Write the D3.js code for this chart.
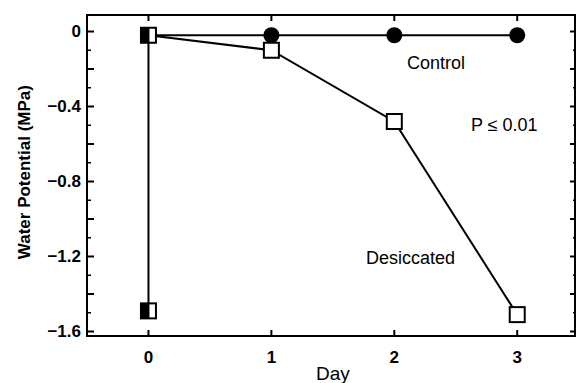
<!DOCTYPE html>
<html>
<head>
<meta charset="utf-8">
<script src="https://cdn.jsdelivr.net/npm/d3@7"></script>
<style>
  body { margin: 0; background: #fff; }
  text { font-family: "Liberation Sans", Arial, Helvetica, sans-serif; fill: #000; }
</style>
</head>
<body>
<div id="chart"></div>
<script>
// data
var days = [0, 1, 2, 3];
var control = [-0.02, -0.02, -0.02, -0.02];
var desiccated = [-0.02, -0.10, -0.48, -1.51];
var day0Values = [-0.02, -1.49];   // both treatments overlap at day 0
var yTickLabels = [0, -0.4, -0.8, -1.2, -1.6];

var width = 576,
    height = 383;

var x = d3.scaleLinear().domain([-0.5, 3.47]).range([87, 575]);
var y = d3.scaleLinear().domain([-1.624, 0.088]).range([336, 15]);

var svg = d3.select("#chart").append("svg")
  .attr("width", width)
  .attr("height", height);

// frame
svg.append("rect")
  .attr("x", x(-0.5)).attr("y", y(0.088))
  .attr("width", x(3.47) - x(-0.5)).attr("height", y(-1.624) - y(0.088))
  .attr("fill", "none").attr("stroke", "#000").attr("stroke-width", 2);

// y ticks (inward on both sides)
var majorY = d3.range(0, -1.61, -0.2);
var minorY = d3.range(-0.1, -1.61, -0.2);

svg.append("g").selectAll("line.maj").data(majorY).enter().append("line")
  .attr("x1", x(-0.5)).attr("x2", x(-0.5) + 7)
  .attr("y1", function(d) { return y(d); }).attr("y2", function(d) { return y(d); })
  .attr("stroke", "#000").attr("stroke-width", 2);
svg.append("g").selectAll("line.min").data(minorY).enter().append("line")
  .attr("x1", x(-0.5)).attr("x2", x(-0.5) + 4)
  .attr("y1", function(d) { return y(d); }).attr("y2", function(d) { return y(d); })
  .attr("stroke", "#000").attr("stroke-width", 1.5);
svg.append("g").selectAll("line.rmaj").data(majorY).enter().append("line")
  .attr("x1", x(3.47)).attr("x2", x(3.47) - 5)
  .attr("y1", function(d) { return y(d); }).attr("y2", function(d) { return y(d); })
  .attr("stroke", "#000").attr("stroke-width", 2);
svg.append("g").selectAll("line.rmin").data(minorY).enter().append("line")
  .attr("x1", x(3.47)).attr("x2", x(3.47) - 2)
  .attr("y1", function(d) { return y(d); }).attr("y2", function(d) { return y(d); })
  .attr("stroke", "#000").attr("stroke-width", 1.5);

svg.append("g").selectAll("text").data(yTickLabels).enter().append("text")
  .attr("x", 81).attr("y", function(d) { return y(d); })
  .attr("dy", "0.35em")
  .attr("text-anchor", "end")
  .style("font-size", "17px").style("font-weight", "bold")
  .text(function(d) { return d === 0 ? "0" : d3.format(".1f")(d); });

// x ticks (inward top and bottom)
svg.append("g").selectAll("line.b").data(days).enter().append("line")
  .attr("x1", function(d) { return x(d); }).attr("x2", function(d) { return x(d); })
  .attr("y1", y(-1.624)).attr("y2", y(-1.624) - 6)
  .attr("stroke", "#000").attr("stroke-width", 2);
svg.append("g").selectAll("line.t").data(days).enter().append("line")
  .attr("x1", function(d) { return x(d); }).attr("x2", function(d) { return x(d); })
  .attr("y1", y(0.088)).attr("y2", y(0.088) + 6)
  .attr("stroke", "#000").attr("stroke-width", 2);
svg.append("g").selectAll("text").data(days).enter().append("text")
  .attr("x", function(d) { return x(d); }).attr("y", 357)
  .attr("dy", "0.35em")
  .attr("text-anchor", "middle")
  .style("font-size", "17px").style("font-weight", "bold")
  .text(function(d) { return d; });

// axis titles
svg.append("text")
  .attr("x", x(1.5)).attr("y", 380)
  .attr("text-anchor", "middle")
  .style("font-size", "19px")
  .text("Day");
svg.append("text")
  .attr("transform", "translate(30," + y(-0.75) + ") rotate(-90)")
  .attr("text-anchor", "middle")
  .style("font-size", "17px").style("font-weight", "bold")
  .text("Water Potential (MPa)");

// lines
var line = d3.line()
  .x(function(d) { return x(d[0]); })
  .y(function(d) { return y(d[1]); });

svg.append("path")
  .datum(d3.zip(days, control))
  .attr("d", line).attr("fill", "none").attr("stroke", "#000").attr("stroke-width", 2);
svg.append("path")
  .datum(d3.zip(days, desiccated))
  .attr("d", line).attr("fill", "none").attr("stroke", "#000").attr("stroke-width", 2);
svg.append("path")
  .datum(day0Values.map(function(v) { return [0, v]; }))
  .attr("d", line).attr("fill", "none").attr("stroke", "#000").attr("stroke-width", 2);

// control circles (day 0 hidden under the square marker)
svg.append("g").selectAll("circle").data(d3.zip(days, control).slice(1)).enter().append("circle")
  .attr("cx", function(d) { return x(d[0]); })
  .attr("cy", function(d) { return y(d[1]); })
  .attr("r", 8)
  .attr("fill", "#000");

// desiccated squares
var s = 15;
svg.append("g").selectAll("rect").data(d3.zip(days, desiccated).slice(1)).enter().append("rect")
  .attr("x", function(d) { return x(d[0]) - s / 2; })
  .attr("y", function(d) { return y(d[1]) - s / 2; })
  .attr("width", s).attr("height", s)
  .attr("fill", "#fff").attr("stroke", "#000").attr("stroke-width", 2);

// day 0: overlapping filled + open squares
var d0 = svg.append("g").selectAll("g").data(day0Values).enter().append("g");
d0.append("rect")
  .attr("x", x(0) - s / 2).attr("y", function(d) { return y(d) - s / 2; })
  .attr("width", s).attr("height", s)
  .attr("fill", "#fff").attr("stroke", "#000").attr("stroke-width", 2);
d0.append("rect")
  .attr("x", x(0) - s / 2).attr("y", function(d) { return y(d) - s / 2; })
  .attr("width", s / 2 + 1).attr("height", s)
  .attr("fill", "#000");

// annotations
svg.append("text").attr("x", 407).attr("y", 63).attr("dy", "0.35em")
  .style("font-size", "18px").text("Control");
svg.append("text").attr("x", 471).attr("y", 125).attr("dy", "0.35em")
  .style("font-size", "18px").text("P \u2264 0.01");
svg.append("text").attr("x", 366).attr("y", 258).attr("dy", "0.35em")
  .style("font-size", "18px").text("Desiccated");
</script>
</body>
</html>
